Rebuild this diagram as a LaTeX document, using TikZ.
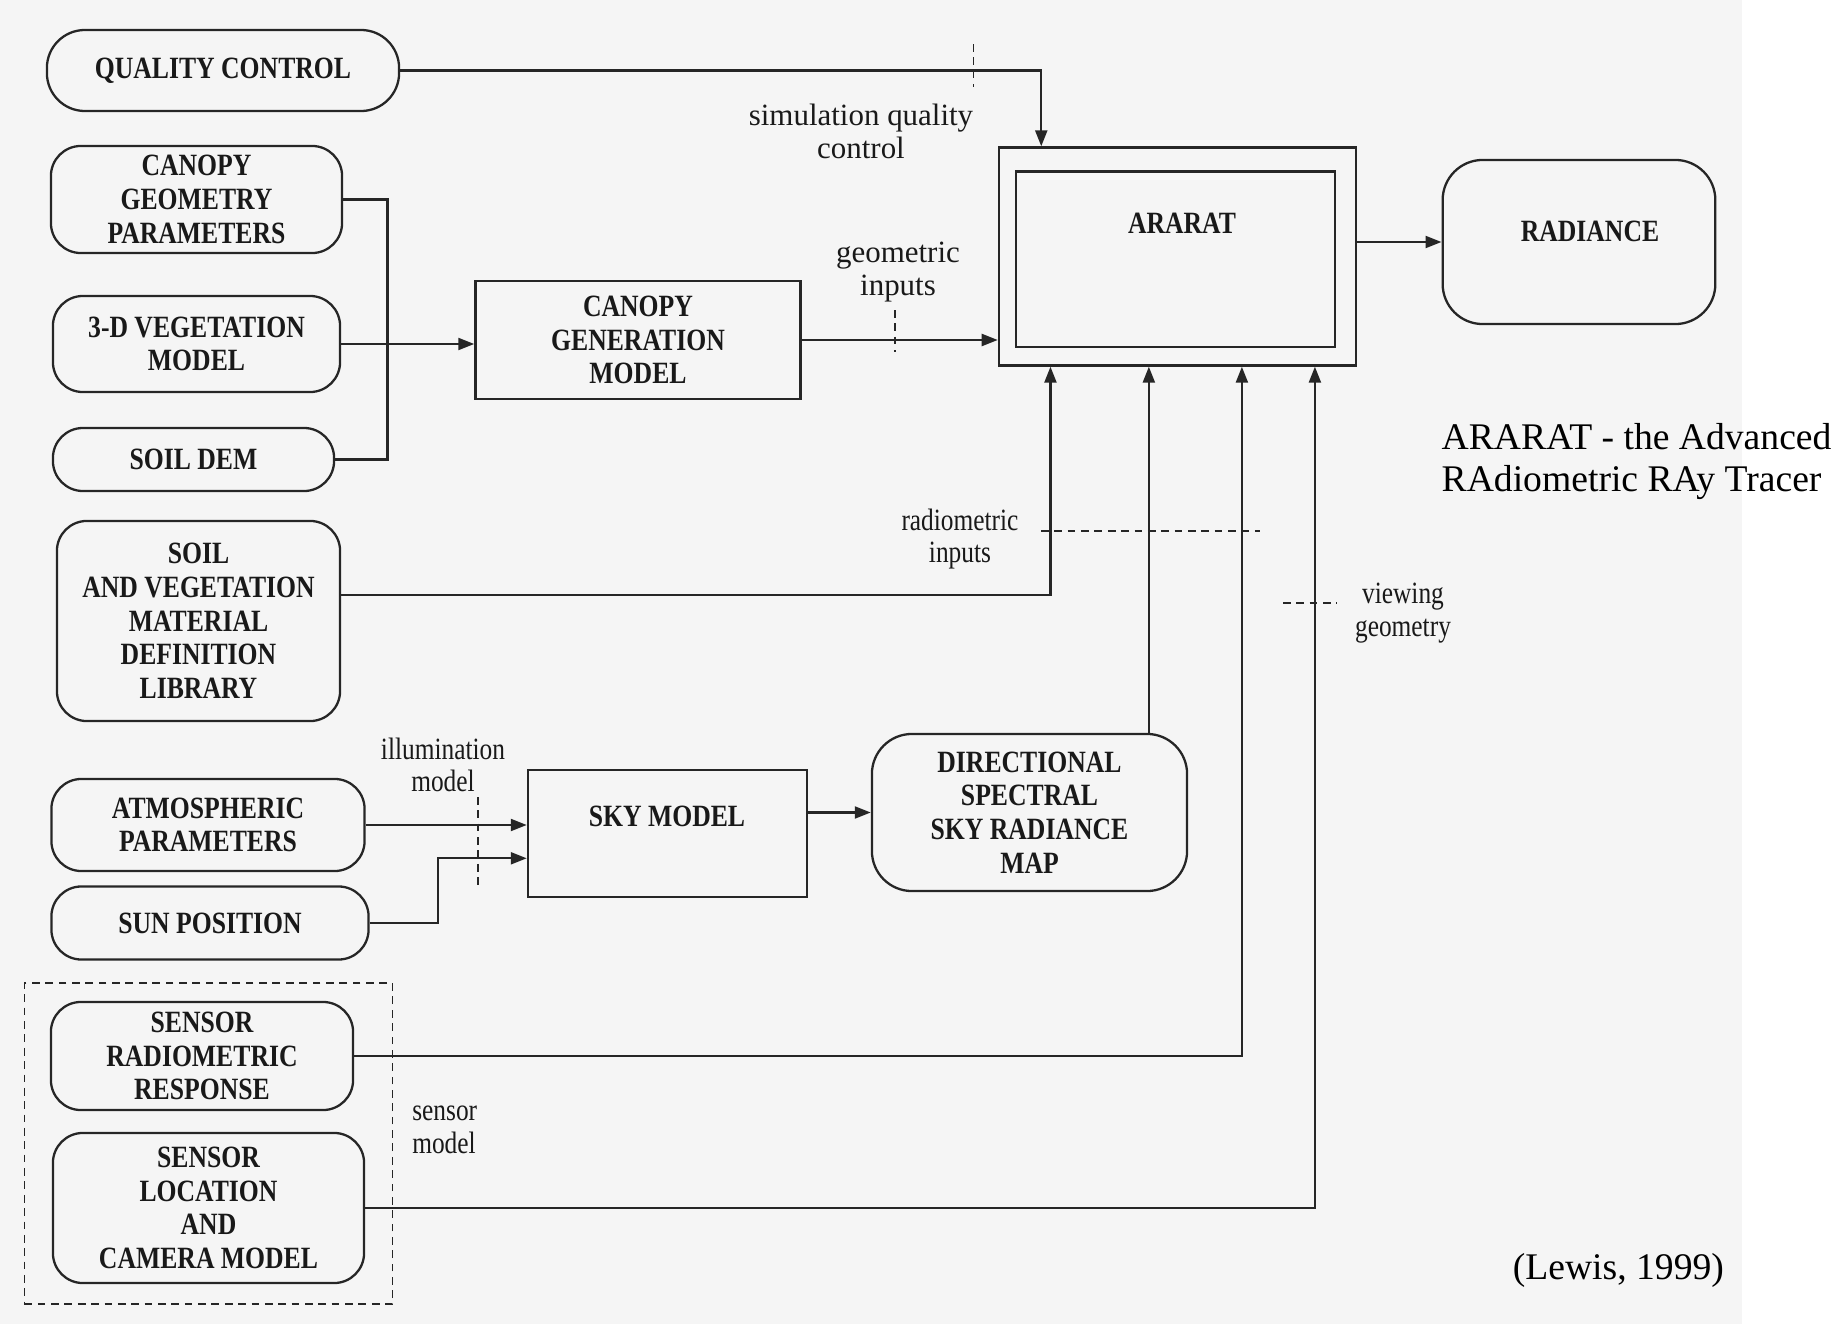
\documentclass[tikz,border=0pt]{standalone}
\usepackage{fontspec}
\setmainfont{Liberation Serif}
\newfontfamily\boxfont[FakeStretch=0.83]{Liberation Serif}
\newfontfamily\condfont[FakeStretch=0.82]{Liberation Serif}
\usetikzlibrary{arrows.meta}
\begin{document}
\begin{tikzpicture}[x=0.01cm, y=-0.01cm,
  ln/.style={line width=0.65pt, draw=black!85},
  boxtxt/.style={inner sep=0pt, align=center, text=black!90,
    font=\boxfont\bfseries\fontsize{8.8}{9.6}\selectfont},
  rbox/.style={ln, boxtxt, rounded corners=0.3cm},
  sbox/.style={ln, boxtxt},
  arr/.style={ln, -{Triangle[length=0.16cm,width=0.12cm]}},
  dsh/.style={line width=0.5pt, draw=black!85, dash pattern=on 2.2pt off 1.6pt},
  lbl/.style={inner sep=0pt, align=center, text=black!90,
    font=\fontsize{8.8}{9.4}\selectfont},
  clbl/.style={inner sep=0pt, align=center, text=black!90,
    font=\condfont\fontsize{8.8}{9.2}\selectfont},
  captxt/.style={inner sep=0pt, text=black, font=\fontsize{10.7}{12.8}\selectfont}
]
% page and frame
\fill[black!4] (0,0) rectangle (1742,1324);
\useasboundingbox (0,0) rectangle (1847,1324);

% input boxes on the left
\node[rbox, minimum width=3.52cm, minimum height=0.81cm, rounded corners=0.38cm] (qc) at (223,70.5) {QUALITY CONTROL};
\node[rbox, minimum width=2.91cm, minimum height=1.07cm] (cgp) at (196.5,199.5) {CANOPY\\GEOMETRY\\PARAMETERS};
\node[rbox, minimum width=2.87cm, minimum height=0.96cm] (veg) at (196.5,344) {3-D VEGETATION\\MODEL};
\node[rbox, minimum width=2.81cm, minimum height=0.63cm] (dem) at (193.5,459.5) {SOIL DEM};
\node[rbox, minimum width=2.83cm, minimum height=2.0cm] (lib) at (198.5,621) {SOIL\\AND VEGETATION\\MATERIAL\\DEFINITION\\LIBRARY};
\node[rbox, minimum width=3.13cm, minimum height=0.92cm] (atm) at (208,825) {ATMOSPHERIC\\PARAMETERS};
\node[rbox, minimum width=3.17cm, minimum height=0.73cm] (sun) at (210,923) {SUN POSITION};
\node[rbox, minimum width=3.02cm, minimum height=1.08cm] (srr) at (202,1056) {SENSOR\\RADIOMETRIC\\RESPONSE};
\node[rbox, minimum width=3.11cm, minimum height=1.5cm] (slc) at (208.5,1208) {SENSOR\\LOCATION\\AND\\CAMERA MODEL};
\node[dsh, draw, minimum width=3.68cm, minimum height=3.21cm, inner sep=0pt] (sensgrp) at (208.5,1143.5) {};
\node[clbl, align=left, anchor=west] (sensm) at (411.6,1130) {sensor\\model};

% processing boxes
\node[sbox, minimum width=3.25cm, minimum height=1.18cm] (cgm) at (638,340) {CANOPY\\GENERATION\\MODEL};
\node[sbox, minimum width=2.79cm, minimum height=1.27cm] (sky) at (667.5,833.5) {};
\node[boxtxt] (skylbl) at (667,816) {SKY MODEL};
\node[rbox, minimum width=3.15cm, minimum height=1.57cm, rounded corners=0.4cm] (dsr) at (1029.5,812.5) {DIRECTIONAL\\SPECTRAL\\SKY RADIANCE\\MAP};

% the ray tracer and its output
\node[sbox, minimum width=3.57cm, minimum height=2.18cm] (ar) at (1177.5,256.5) {};
\node[sbox, minimum width=3.19cm, minimum height=1.755cm] (arin) at (1175.5,259.25) {};
\node[boxtxt] (arlbl) at (1182,223) {ARARAT};
\node[rbox, minimum width=2.725cm, minimum height=1.64cm, rounded corners=0.4cm] (rad) at (1579,242) {};
\node[boxtxt] (radlbl) at (1590,231) {RADIANCE};

% quality control feed
\draw[arr] (qc.east) -| ([xshift=0.435cm]ar.north west);
\draw[dsh] (973.6,44) -- (973.6,87);
\node[lbl] (sqc) at (861,131) {simulation quality\\control};

% canopy geometry feed
\coordinate (bus) at (387.6,400);
\draw[ln] (cgp.east) -| (bus) |- (dem.east);
\draw[arr] (veg.east) -- (veg.east -| cgm.west);
\draw[arr] (cgm.east) -- (cgm.east -| ar.west);
\draw[dsh] (894.7,310) -- (894.7,352);
\node[lbl] (geo) at (898,272) {geometric\\inputs};

% radiometric feeds
\draw[arr] ([yshift=0.26cm]lib.east) -| ([xshift=0.527cm]ar.south west);
\coordinate (dsrtop) at ([xshift=1.193cm]dsr.north);
\draw[arr] (dsrtop) -- (dsrtop |- ar.south);
\draw[arr] (srr.east) -| ([xshift=2.44cm]ar.south west);
\draw[dsh] (1041,531) -- (1260,531);
\node[clbl] (radin) at (960,539) {radiometric\\inputs};

% viewing geometry feed
\draw[arr] (slc.east) -| ([xshift=3.17cm]ar.south west);
\draw[dsh] (1283,603) -- (1337,603);
\node[clbl] (viewg) at (1403,613) {viewing\\geometry};

% illumination model
\draw[arr] (atm.east) -- (atm.east -| sky.west);
\coordinate (sunbend) at (437.8,858.3);
\draw[arr] (sun.east) -| (sunbend) -- (sunbend -| sky.west);
\draw[dsh] (478,797) -- (478,886);
\node[clbl] (illum) at (443,765) {illumination\\model};
\draw[arr] (dsr.west -| sky.east) -- (dsr.west);

% output
\draw[arr] (rad.west -| ar.east) -- (rad.west);

% captions
\node[captxt, anchor=base west] (cap1) at (1441,449.6) {ARARAT - the Advanced};
\node[captxt, anchor=base west] (cap2) at (1441,491.8) {RAdiometric RAy Tracer};
\node[captxt, anchor=base east] (cite) at (1724.6,1279) {(Lewis, 1999)};
\end{tikzpicture}
\end{document}
